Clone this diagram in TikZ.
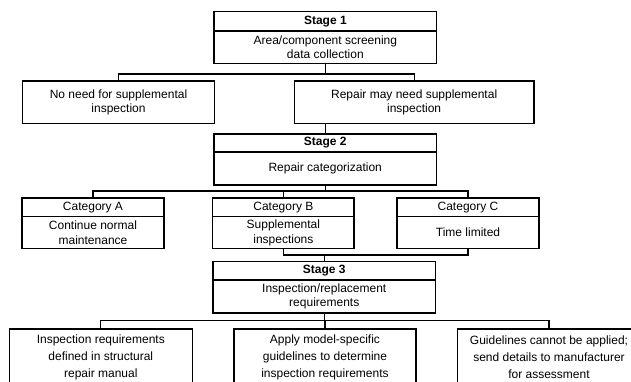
\documentclass[tikz,border=0pt]{standalone}
\usepackage{fontspec}
\setmainfont{Liberation Sans}
\begin{document}
\begin{tikzpicture}[x=1pt,y=-1pt,
  box/.style={draw, line width=1.2pt, inner sep=0pt, align=center, font=\fontsize{12}{13.5}\selectfont},
  hdr/.style={box, font=\bfseries\fontsize{12}{13.5}\selectfont},
  catbox/.style={box, font=\fontsize{12}{15}\selectfont},
  lowbox/.style={box, font=\fontsize{12}{17}\selectfont},
  conn/.style={line width=1.2pt}]
\useasboundingbox (0,0) rectangle (631,381);
\fill[white] (0,0) rectangle (631,381);
\clip (0,0) rectangle (631,381);

% Stage 1
\node[hdr, minimum width=222.7pt, minimum height=19.3pt] (s1h) at (325.35,21.35) {Stage 1};
\node[box, minimum width=222.7pt, minimum height=32.3pt] (s1b) at (325.35,47.15) {Area/component screening\\data collection};
\node[box, minimum width=192pt, minimum height=42.3pt] (l1) at (118.5,102.15) {No need for supplemental\\inspection};
\node[box, minimum width=239.7pt, minimum height=42.3pt] (r1) at (414.15,102.15) {Repair may need supplemental\\inspection};
\coordinate (j1) at (325.35,74);
\draw[conn] (s1b.south) -- (j1);
\draw[conn] (l1.north) |- (j1) -| (r1.north);

% Stage 2
\node[hdr, minimum width=222.5pt, minimum height=18pt] (s2h) at (325.25,143) {Stage 2};
\node[box, minimum width=222.5pt, minimum height=33pt] (s2b) at (325.25,168.5) {Repair categorization};
\draw[conn] (s2h.north |- r1.south) -- (s2h.north);

\node[catbox, minimum width=142pt, minimum height=18.5pt] (cah) at (93,207.25) {Category A};
\node[catbox, minimum width=142pt, minimum height=32pt] (ca) at (93,232.5) {Continue normal\\maintenance};
\node[catbox, minimum width=141.3pt, minimum height=18.5pt] (cbh) at (283.35,207.25) {Category B};
\node[catbox, minimum width=141.3pt, minimum height=32pt] (cb) at (283.35,232.5) {Supplemental\\inspections};
\node[catbox, minimum width=142pt, minimum height=18.5pt] (cch) at (468,207.25) {Category C};
\node[catbox, minimum width=142pt, minimum height=32pt] (cc) at (468,232.5) {Time limited};
\coordinate (j2) at (325.25,191);
\draw[conn] (s2b.south) -- (j2);
\draw[conn] (cah.north) |- (j2) -| (cch.north);
\draw[conn] (cbh.north) -- (cbh.north |- j2);

% Stage 3
\node[hdr, minimum width=222.5pt, minimum height=18.5pt] (s3h) at (324.25,270.75) {Stage 3};
\node[box, minimum width=222.5pt, minimum height=33pt] (s3b) at (324.25,296.5) {Inspection/replacement\\requirements};
\coordinate (j3) at (324.25,255);
\draw[conn] (cb.south) |- (j3) -| (cc.south);
\draw[conn] (j3) -- (s3h.north);

\node[lowbox, minimum width=183pt, minimum height=56pt] (b1) at (100.8,357) {Inspection requirements\\defined in structural\\repair manual};
\node[lowbox, minimum width=182pt, minimum height=56pt] (b2) at (325,357) {Apply model-specific\\guidelines to determine\\inspection requirements};
\node[lowbox, minimum width=183pt, minimum height=56pt] (b3) at (549,357) {Guidelines cannot be applied;\\send details to manufacturer\\for assessment};
\coordinate (j4) at (324.25,320.5);
\draw[conn] (s3b.south) -- (j4);
\draw[conn] (b1.north) |- (j4) -| (b3.north);
\draw[conn] (b2.north) -- (b2.north |- j4);
\end{tikzpicture}
\end{document}
